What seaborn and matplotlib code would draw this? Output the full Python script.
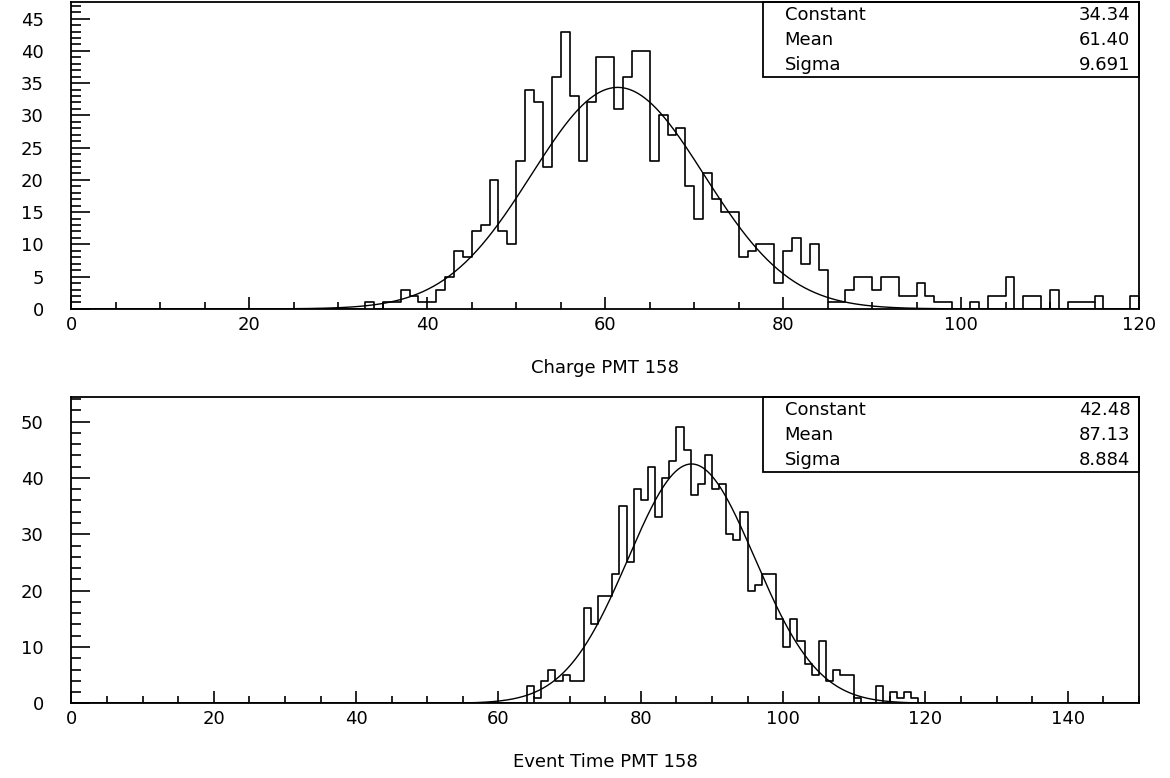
import numpy as np
import pandas as pd
import matplotlib.pyplot as plt
import seaborn as sns
from matplotlib.ticker import MultipleLocator
from matplotlib.patches import Rectangle

sns.set_theme(style='ticks')
plt.rcParams['font.family'] = ['DejaVu Sans']
plt.rcParams['text.color'] = 'black'
plt.rcParams['axes.labelcolor'] = 'black'
plt.rcParams['xtick.color'] = 'black'
plt.rcParams['ytick.color'] = 'black'

# charge histogram, 1 unit bins from 0 to 120
charge_counts = [
    0, 0, 0, 0, 0, 0, 0, 0, 0, 0,
    0, 0, 0, 0, 0, 0, 0, 0, 0, 0,
    0, 0, 0, 0, 0, 0, 0, 0, 0, 0,
    0, 0, 0, 1, 0, 1, 1, 3, 2, 1,
    1, 3, 5, 9, 8, 12, 13, 20, 12, 10,
    23, 34, 32, 22, 36, 43, 33, 23, 32, 39,
    39, 31, 36, 40, 40, 23, 30, 27, 28, 19,
    14, 21, 17, 15, 15, 8, 9, 10, 10, 4,
    9, 11, 7, 10, 6, 1, 1, 3, 5, 5,
    3, 5, 5, 2, 2, 4, 2, 1, 1, 0,
    0, 1, 0, 2, 2, 5, 0, 2, 2, 0,
    3, 0, 1, 1, 1, 2, 0, 0, 0, 2,
]

# event time histogram, 1 unit bins from 0 to 150
time_counts = [
    0, 0, 0, 0, 0, 0, 0, 0, 0, 0,
    0, 0, 0, 0, 0, 0, 0, 0, 0, 0,
    0, 0, 0, 0, 0, 0, 0, 0, 0, 0,
    0, 0, 0, 0, 0, 0, 0, 0, 0, 0,
    0, 0, 0, 0, 0, 0, 0, 0, 0, 0,
    0, 0, 0, 0, 0, 0, 0, 0, 0, 0,
    0, 0, 0, 0, 3, 1, 4, 6, 4, 5,
    4, 4, 17, 14, 19, 19, 23, 35, 25, 38,
    36, 42, 33, 40, 43, 49, 45, 37, 39, 44,
    38, 39, 30, 29, 34, 20, 21, 23, 23, 15,
    10, 15, 11, 7, 5, 11, 4, 6, 5, 5,
    1, 0, 0, 3, 0, 2, 1, 2, 1, 0,
    0, 0, 0, 0, 0, 0, 0, 0, 0, 0,
    0, 0, 0, 0, 0, 0, 0, 0, 0, 0,
    0, 0, 0, 0, 0, 0, 0, 0, 0, 0,
]

fit_names = ['Constant', 'Mean', 'Sigma']
charge_fit = [34.34, 61.40, 9.691]
charge_fit_text = ['34.34', '61.40', '9.691']
time_fit = [42.48, 87.13, 8.884]
time_fit_text = ['42.48', '87.13', '8.884']

FS = 13


def draw_panel(ax, counts, xmax, fit, fit_text, xlabel, ymax, ymajor, yminor):
    df = pd.DataFrame({'x': np.arange(len(counts)) + 0.5, 'n': counts})
    sns.histplot(data=df, x='x', weights='n', binwidth=1, binrange=(0, xmax),
                 element='step', fill=False, color='black', linewidth=1.2, ax=ax)

    # gaussian fit curve from the fitted parameters
    xs = np.linspace(0, xmax, 800)
    ys = fit[0] * np.exp(-0.5 * ((xs - fit[1]) / fit[2]) ** 2)
    sns.lineplot(x=xs, y=ys, color='black', linewidth=1.0, ax=ax)

    ax.set_xlim(0, xmax)
    ax.set_ylim(0, ymax)
    ax.xaxis.set_major_locator(MultipleLocator(20))
    ax.xaxis.set_minor_locator(MultipleLocator(5))
    ax.yaxis.set_major_locator(MultipleLocator(ymajor))
    ax.yaxis.set_minor_locator(MultipleLocator(yminor))
    ax.tick_params(axis='x', which='major', direction='in', length=9, width=1.2,
                   labelsize=FS, pad=5)
    ax.tick_params(axis='x', which='minor', direction='in', length=5, width=1.2)
    ax.tick_params(axis='y', which='major', direction='in', length=14, width=1.2,
                   labelsize=FS, pad=20)
    ax.tick_params(axis='y', which='minor', direction='in', length=7, width=1.2)
    for s in ax.spines.values():
        s.set_linewidth(1.3)
        s.set_color('black')

    ax.set_ylabel('')
    ax.set_xlabel(xlabel, fontsize=FS)
    ax.xaxis.set_label_coords(0.5, -0.192)
    ax.xaxis.label.set_va('center')

    # stats box
    x0 = 0.648
    ax.add_patch(Rectangle((x0, 0.756), 1 - x0, 0.244, transform=ax.transAxes,
                           fill=False, edgecolor='black', linewidth=1.3,
                           clip_on=False, zorder=5))
    for yy, name, val in zip([0.958, 0.876, 0.795], fit_names, fit_text):
        ax.text(0.668, yy, name, transform=ax.transAxes, fontsize=FS,
                va='center', ha='left')
        ax.text(0.992, yy, val, transform=ax.transAxes, fontsize=FS,
                va='center', ha='right')


fig = plt.figure(figsize=(11.7, 7.78), dpi=100)
ax1 = fig.add_axes([0.0611, 0.603, 0.9124, 0.3946])
ax2 = fig.add_axes([0.0611, 0.096, 0.9124, 0.394])

draw_panel(ax1, charge_counts, 120, charge_fit, charge_fit_text,
           'Charge PMT 158', 47.6, 5, 1)
draw_panel(ax2, time_counts, 150, time_fit, time_fit_text,
           'Event Time PMT 158', 54.4, 10, 2)

fig.savefig('out.png', dpi=100, facecolor='white')
